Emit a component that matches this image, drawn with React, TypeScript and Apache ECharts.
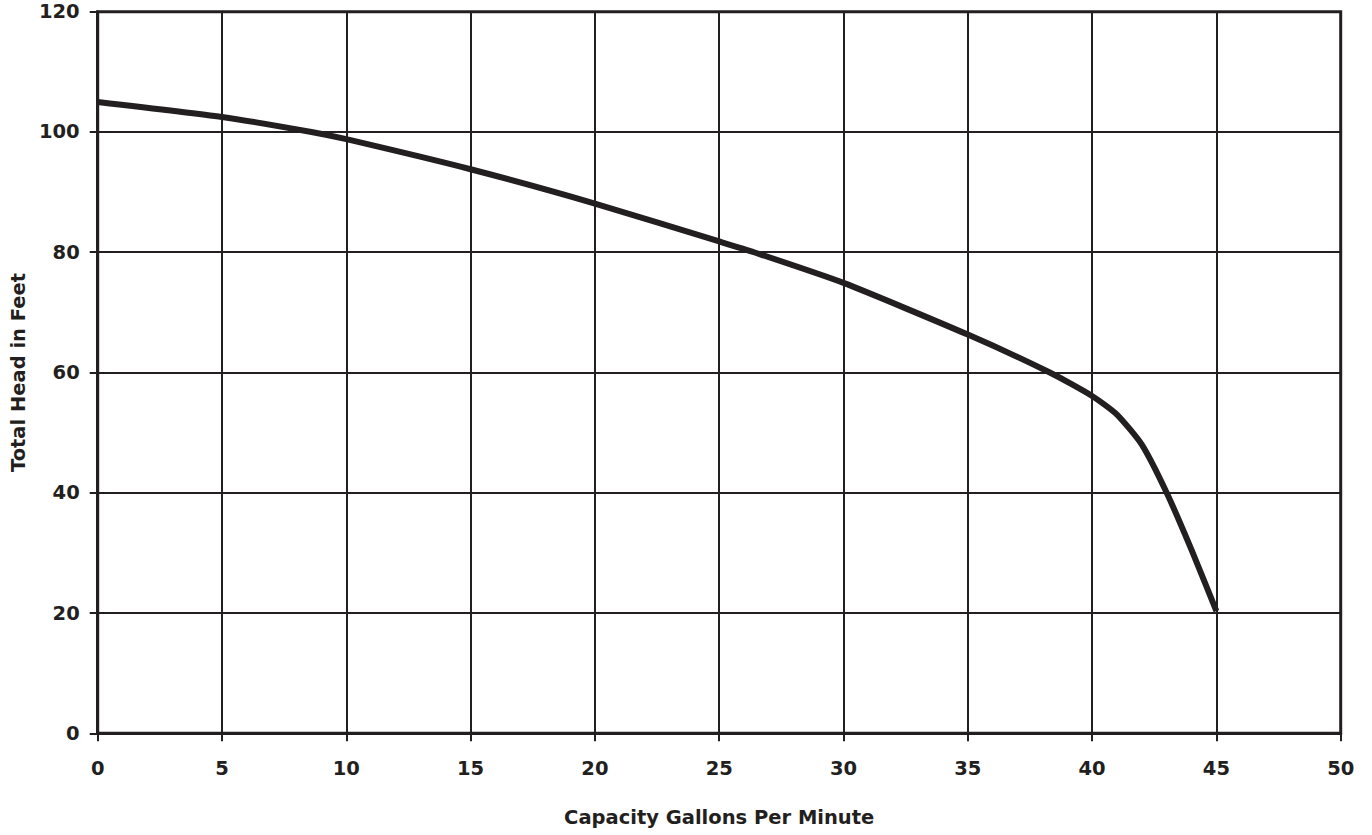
import React, { useEffect, useRef } from "react";
import * as echarts from "echarts";

const capacityGpm = [0, 5, 8.6, 10, 15, 20, 25, 26.4, 30, 35, 38.3, 40, 41, 42, 43, 44, 45];
const totalHeadFt = [105, 102.5, 100, 98.8, 93.8, 88.1, 81.8, 80, 74.9, 66.3, 60, 56.1, 53, 48, 40, 30.5, 20.3];
const xTicks = [0, 5, 10, 15, 20, 25, 30, 35, 40, 45, 50];
const yTicks = [0, 20, 40, 60, 80, 100, 120];

const INK = "#231f20";
const FONT = "DejaVu Sans";

export default function App() {
  const ref = useRef<HTMLDivElement>(null);
  useEffect(() => {
    document.body.style.margin = "0";
    const chart = echarts.init(ref.current!, null, { renderer: "svg" });
    const labelStyle = { color: INK, fontFamily: FONT, fontWeight: "bold" as const, fontSize: 19.5 };
    chart.setOption({
      animation: false,
      backgroundColor: "#ffffff",
      grid: {
        left: 97.7,
        right: 31.3,
        top: 11.7,
        bottom: 101.7,
        containLabel: false,
        outerBoundsMode: "none",
        show: true,
        borderColor: INK,
        borderWidth: 3,
      },
      xAxis: {
        type: "value",
        min: xTicks[0],
        max: xTicks[xTicks.length - 1],
        interval: 5,
        name: "Capacity Gallons Per Minute",
        nameLocation: "middle",
        nameGap: 74,
        nameTextStyle: labelStyle,
        axisLine: { show: true, onZero: false, lineStyle: { color: INK, width: 3 } },
        axisTick: { show: true, length: 8, lineStyle: { color: INK, width: 2 } },
        axisLabel: { ...labelStyle, margin: 25, formatter: (v: number) => String(v) },
        splitLine: { show: true, lineStyle: { color: INK, width: 2 } },
      },
      yAxis: {
        type: "value",
        min: yTicks[0],
        max: yTicks[yTicks.length - 1],
        interval: 20,
        name: "Total Head in Feet",
        nameLocation: "middle",
        nameGap: 68,
        nameTextStyle: labelStyle,
        axisLine: { show: true, onZero: false, lineStyle: { color: INK, width: 3 } },
        axisTick: { show: true, length: 8, lineStyle: { color: INK, width: 2 } },
        axisLabel: { ...labelStyle, margin: 18, formatter: (v: number) => String(v) },
        splitLine: { show: true, lineStyle: { color: INK, width: 2 } },
      },
      series: [
        {
          type: "line",
          data: capacityGpm.map((x, i) => [x, totalHeadFt[i]]),
          showSymbol: false,
          smooth: 0.2,
          lineStyle: { color: INK, width: 6, cap: "butt", join: "round" },
          z: 5,
        },
      ],
    });
    return () => chart.dispose();
  }, []);
  return <div ref={ref} style={{ width: 1372, height: 835 }} />;
}
